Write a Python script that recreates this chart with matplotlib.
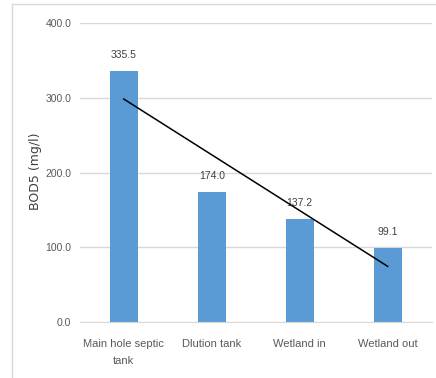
import matplotlib.pyplot as plt
import numpy as np
from matplotlib.lines import Line2D

stations = ["Main hole septic\ntank", "Dlution tank", "Wetland in", "Wetland out"]
bod5 = [335.5, 174.0, 137.2, 99.1]
y_ticks = [0, 100, 200, 300, 400]

plt.rcParams['font.family'] = ['Liberation Sans', 'DejaVu Sans']

fig = plt.figure(figsize=(4.36, 3.78), dpi=100)
ax = fig.add_axes([0.183, 0.148, 0.807, 0.791])

x = np.arange(len(stations))
ax.bar(x, bod5, width=0.32, color='#5B9BD5', zorder=2)

# etykiety wartości nad słupkami
for xi, v in zip(x, bod5):
    ax.annotate(f"{v:.1f}", (xi, v), xytext=(0, 8), textcoords='offset points',
                ha='center', va='bottom', fontsize=7.5, color='#404040')

# liniowa linia trendu
coef = np.polyfit(x, bod5, 1)
ax.plot(x[[0, -1]], np.polyval(coef, x[[0, -1]]), color='black',
        linewidth=1.1, zorder=3)

ax.set_xlim(-0.5, 3.5)
ax.set_ylim(0, 400)
ax.set_yticks(y_ticks)
ax.set_yticklabels([f"{t:.1f}" for t in y_ticks])
ax.set_xticks(x)
ax.set_xticklabels(stations, fontsize=8, linespacing=1.9)
ax.tick_params(axis='both', length=0, labelcolor='#595959')
ax.tick_params(axis='y', pad=6, labelsize=7.5)
ax.tick_params(axis='x', pad=12)

ax.grid(axis='y', color='#d9d9d9', linewidth=1, zorder=0)
for side in ['top', 'right', 'left']:
    ax.spines[side].set_visible(False)
ax.spines['bottom'].set_color('#d9d9d9')

fig.text(35 / 436, 0.546, "BOD5 (mg/l)", rotation=90, ha='center', va='center',
         fontsize=9, color='#404040', family='DejaVu Sans')

# ramka obszaru wykresu (górna i lewa krawędź)
fig.add_artist(Line2D([12 / 436, 1.0], [1 - 4 / 378, 1 - 4 / 378],
                      transform=fig.transFigure, color='#d9d9d9', linewidth=1))
fig.add_artist(Line2D([12 / 436, 12 / 436], [1 - 4 / 378, 0.0],
                      transform=fig.transFigure, color='#d9d9d9', linewidth=1))

fig.savefig('out.png', dpi=100)
